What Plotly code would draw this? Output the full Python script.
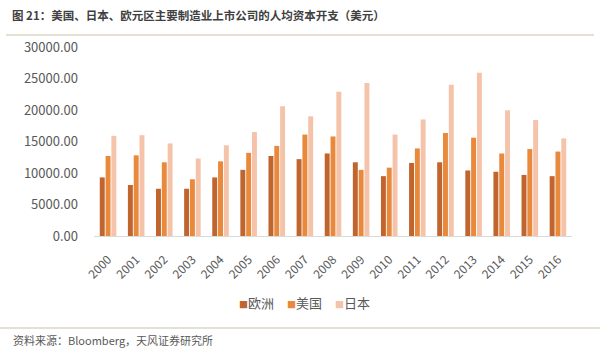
import plotly.graph_objects as go

years = [str(y) for y in range(2000, 2017)]
europe = [9300, 8100, 7500, 7500, 9300, 10500, 12700, 12200, 13100, 11700, 9500, 11600, 11700, 10400, 10200, 9700, 9500]
usa = [12700, 12800, 11700, 9000, 11850, 13200, 14300, 16100, 15800, 10500, 10850, 13900, 16350, 15600, 13100, 13800, 13400]
japan = [15900, 16000, 14700, 12300, 14400, 16500, 20600, 19000, 22900, 24300, 16100, 18500, 24000, 25900, 19950, 18400, 15500]

series = [("欧洲", europe, "#C0652E"), ("美国", usa, "#E8893C"), ("日本", japan, "#F5C3AA")]
font_cjk = "Noto Sans CJK SC, Microsoft YaHei, sans-serif"

L, R, T, B = 94, 28, 47, 119
PW, PH = 600 - L - R, 355 - T - B

def px_x(px):
    return (px - L) / PW

def px_y(py):
    return (355 - B - py) / PH

fig = go.Figure()
for name, vals, col in series:
    fig.add_trace(go.Bar(x=years, y=vals, name=name, marker=dict(color=col, line=dict(width=0))))

annotations = [
    dict(text="<b>图 21：美国、日本、欧元区主要制造业上市公司的人均资本开支（美元）</b>", xref="paper", yref="paper",
         x=px_x(10), y=px_y(15), xanchor="left", yanchor="middle", showarrow=False,
         font=dict(size=11.5, color="#404040", family=font_cjk)),
    dict(text="资料来源：Bloomberg，天风证券研究所", xref="paper", yref="paper",
         x=px_x(11), y=px_y(340), xanchor="left", yanchor="middle", showarrow=False,
         font=dict(size=11, color="#595959", family=font_cjk)),
]
# legend entries (compact, square marker right next to the label)
leg_x = [237, 285, 333]
for (name, vals, col), lx in zip(series, leg_x):
    annotations.append(dict(
        text=f'<span style="color:{col};font-size:9px">■</span>{name}',
        xref="paper", yref="paper", x=px_x(lx), y=px_y(302), xanchor="left", yanchor="middle",
        showarrow=False, font=dict(size=13, color="#595959", family=font_cjk)))

fig.update_layout(
    width=600, height=355,
    margin=dict(l=L, r=R, t=T, b=B, autoexpand=False),
    paper_bgcolor="white", plot_bgcolor="white",
    barmode="group", bargap=0.38, bargroupgap=0.15,
    font=dict(family=font_cjk, color="#595959", size=12),
    showlegend=False,
    xaxis=dict(type="category", tickangle=-45, showgrid=False, showline=True,
               linecolor="#D9D9D9", linewidth=1, ticks="", ticklabelstandoff=11,
               tickfont=dict(size=12, color="#595959"), automargin=False),
    yaxis=dict(range=[0, 30000], dtick=5000, tickformat=".2f", showgrid=False, zeroline=False,
               showline=False, tickfont=dict(size=13, color="#595959"), ticklabelstandoff=15,
               automargin=False),
    annotations=annotations,
    shapes=[
        dict(type="line", xref="paper", yref="paper", x0=px_x(6), x1=px_x(594),
             y0=px_y(35), y1=px_y(35), line=dict(color="#C9C3A8", width=1)),
        dict(type="line", xref="paper", yref="paper", x0=px_x(0), x1=px_x(600),
             y0=px_y(328), y1=px_y(328), line=dict(color="#C9C3A8", width=1)),
    ],
)

fig.write_html("out.html", config={"displayModeBar": False},
               post_script="document.body.style.margin='0';")
